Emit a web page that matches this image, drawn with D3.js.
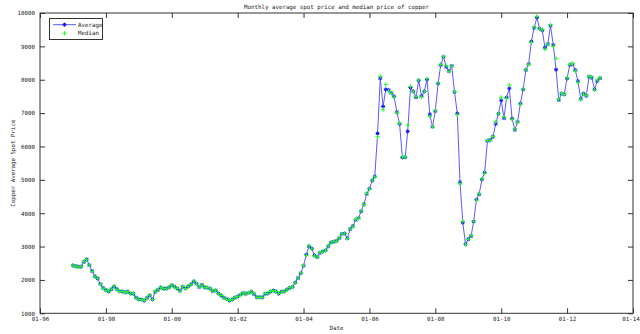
<!DOCTYPE html>
<html>
<head>
<meta charset="utf-8">
<script src="https://cdn.jsdelivr.net/npm/d3@7"></script>
<style>
  html, body { margin: 0; padding: 0; background: #fff; }
  svg { display: block; }
  text { font-family: "DejaVu Sans Mono", "Liberation Mono", monospace; fill: #222; }
</style>
</head>
<body>
<svg id="chart" width="640" height="334"></svg>
<script>
// Monthly copper spot price (USD/t), Jan 1997 – Jan 2013
const startMonth = "1997-01";
const averagePrice = [
  2432, 2413, 2393, 2397, 2537, 2620, 2444, 2266, 2108, 2045, 1878, 1758, // 1997
  1698, 1654, 1720, 1806, 1730, 1666, 1650, 1631, 1647, 1590, 1586, 1468, // 1998
  1421, 1411, 1379, 1459, 1540, 1420, 1644, 1701, 1773, 1741, 1741, 1778, // 1999
  1843, 1797, 1740, 1676, 1794, 1749, 1806, 1867, 1958, 1886, 1786, 1850, // 2000
  1781, 1762, 1736, 1663, 1690, 1598, 1530, 1466, 1431, 1382, 1419, 1465, // 2001
  1501, 1556, 1603, 1587, 1608, 1646, 1577, 1482, 1484, 1479, 1584, 1596, // 2002
  1648, 1683, 1658, 1589, 1647, 1656, 1712, 1759, 1790, 1921, 2056, 2201, // 2003
  2423, 2759, 3009, 2943, 2736, 2684, 2810, 2851, 2889, 3008, 3124, 3143, // 2004
  3170, 3254, 3379, 3394, 3249, 3524, 3614, 3798, 3857, 4059, 4269, 4577, // 2005
  4734, 4982, 5103, 6387, 8046, 7197, 7712, 7695, 7602, 7500, 7029, 6675, // 2006
  5669, 5676, 6452, 7766, 7655, 7476, 7973, 7510, 7650, 8008, 6965, 6587, // 2007
  7061, 7888, 8439, 8685, 8383, 8260, 8414, 7634, 6991, 4926, 3717, 3072, // 2008
  3221, 3315, 3750, 4407, 4569, 5014, 5216, 6165, 6196, 6288, 6676, 6982, // 2009
  7386, 6848, 7463, 7745, 6838, 6499, 6735, 7284, 7709, 8292, 8470, 9147, // 2010
  9556, 9867, 9530, 9483, 8960, 9067, 9619, 9040, 8300, 7394, 7581, 7565, // 2011
  8040, 8441, 8471, 8289, 7956, 7423, 7584, 7516, 8088, 8062, 7711, 7963, // 2012
  8047                                                                    // 2013
];
const medianPrice = [
  2440, 2405, 2390, 2400, 2545, 2610, 2450, 2255, 2100, 2050, 1870, 1750, // 1997
  1690, 1660, 1725, 1815, 1720, 1660, 1655, 1625, 1650, 1585, 1590, 1460, // 1998
  1425, 1405, 1385, 1455, 1545, 1415, 1650, 1705, 1770, 1745, 1735, 1785, // 1999
  1850, 1790, 1745, 1670, 1800, 1745, 1810, 1860, 1965, 1880, 1790, 1845, // 2000
  1775, 1768, 1730, 1660, 1695, 1590, 1535, 1460, 1425, 1385, 1415, 1470, // 2001
  1505, 1550, 1610, 1580, 1612, 1640, 1585, 1475, 1490, 1475, 1590, 1600, // 2002
  1655, 1680, 1650, 1595, 1640, 1660, 1705, 1765, 1795, 1915, 2060, 2210, // 2003
  2430, 2740, 3020, 2930, 2720, 2690, 2820, 2845, 2895, 3015, 3110, 3150, // 2004
  3165, 3260, 3370, 3400, 3240, 3530, 3605, 3810, 3850, 4070, 4260, 4590, // 2005
  4720, 4990, 5090, 6290, 8100, 7100, 7860, 7660, 7590, 7480, 7010, 6700, // 2006
  5690, 5680, 6640, 7800, 7640, 7500, 7990, 7480, 7640, 8030, 6900, 6590, // 2007
  7080, 7900, 8460, 8700, 8420, 8250, 8400, 7650, 6950, 4880, 3760, 3060, // 2008
  3210, 3330, 3760, 4390, 4580, 5030, 5200, 6180, 6180, 6300, 6740, 6990, // 2009
  7470, 6880, 7440, 7840, 6820, 6520, 6720, 7270, 7720, 8300, 8460, 9120, // 2010
  9580, 9900, 9520, 9500, 8910, 9060, 9640, 9000, 8640, 7420, 7590, 7560, // 2011
  8060, 8460, 8490, 8260, 7920, 7410, 7570, 7520, 8100, 8080, 7700, 7990, // 2012
  8060                                                                    // 2013
];
const xTickYears = [1996, 1998, 2000, 2002, 2004, 2006, 2008, 2010, 2012, 2014];
const yTickValues = [1000, 2000, 3000, 4000, 5000, 6000, 7000, 8000, 9000, 10000];
const titleText = "Monthly average spot price and median price of copper";
const xLabel = "Date";
const yLabel = "Copper Average Spot Price";
const seriesNames = ["Average", "Median"];

const svg = d3.select("#chart");
const W = 640, H = 334;
const plot = { left: 40, right: 633, top: 13, bottom: 313.3 };

const [y0, m0] = startMonth.split("-").map(Number);
const months = averagePrice.map((_, i) => new Date(y0, m0 - 1 + i, 1));

const x = d3.scaleTime()
  .domain([new Date(1996, 0, 1), new Date(2014, 0, 1)])
  .range([plot.left, plot.right]);
const y = d3.scaleLinear()
  .domain([1000, 10000])
  .range([plot.bottom, plot.top]);

svg.append("rect").attr("width", W).attr("height", H).attr("fill", "#fff");

const axisColor = "#333";
const fs = 5.8;
const tickLen = 5;

// Bottom axis with inward ticks (mirrored on top)
const xTicks = xTickYears.map(yr => new Date(yr, 0, 1));
const fmt = d3.timeFormat("%m-%y");
const gx = svg.append("g")
  .attr("transform", `translate(0,${plot.bottom})`)
  .call(d3.axisBottom(x).tickValues(xTicks).tickFormat(fmt).tickSizeInner(-tickLen).tickSizeOuter(0).tickPadding(3));
const gxTop = svg.append("g")
  .attr("transform", `translate(0,${plot.top})`)
  .call(d3.axisTop(x).tickValues(xTicks).tickFormat("").tickSizeInner(-tickLen).tickSizeOuter(0));

// Left axis with inward ticks (mirrored on right)
const gy = svg.append("g")
  .attr("transform", `translate(${plot.left},0)`)
  .call(d3.axisLeft(y).tickValues(yTickValues).tickFormat(d3.format("d")).tickSizeInner(-tickLen).tickSizeOuter(0).tickPadding(5));
const gyRight = svg.append("g")
  .attr("transform", `translate(${plot.right},0)`)
  .call(d3.axisRight(y).tickValues(yTickValues).tickFormat("").tickSizeInner(-tickLen).tickSizeOuter(0));

[gx, gxTop, gy, gyRight].forEach(g => {
  g.select(".domain").remove();
  g.selectAll("line").attr("stroke", axisColor).attr("stroke-width", 1);
  g.selectAll("text").attr("font-size", fs).attr("fill", "#222")
    .attr("font-family", "DejaVu Sans Mono, monospace");
});
gx.selectAll("text").attr("dy", "0.35em").attr("y", 5.2);
// keep the last date label inside the page edge
gx.selectAll("text").filter((d, i, n) => i === n.length - 1).attr("dx", -2.5);

// Axes box
svg.append("rect")
  .attr("x", plot.left).attr("y", plot.top)
  .attr("width", plot.right - plot.left).attr("height", plot.bottom - plot.top)
  .attr("fill", "none").attr("stroke", axisColor).attr("stroke-width", 1);

// Titles
svg.append("text").attr("x", (plot.left + plot.right) / 2).attr("y", 8.5)
  .attr("text-anchor", "middle").attr("font-size", fs).text(titleText);
svg.append("text").attr("x", (plot.left + plot.right) / 2).attr("y", 330)
  .attr("text-anchor", "middle").attr("font-size", fs).text(xLabel);
svg.append("text")
  .attr("transform", `translate(15,${(plot.top + plot.bottom) / 2}) rotate(-90)`)
  .attr("text-anchor", "middle").attr("font-size", fs).text(yLabel);

// Marker shapes
const starPath = (r) => {
  const d = r * 0.72;
  return `M${-r},0L${r},0M0,${-r}L0,${r}M${-d},${-d}L${d},${d}M${-d},${d}L${d},${-d}`;
};
const plusPath = (r) => `M${-r},0L${r},0M0,${-r}L0,${r}`;

const blue = "#1010ff";
const lineBlue = "#5a5aff";
const green = "#22ff22";

// Average line
const line = d3.line().x((d, i) => x(months[i])).y(d => y(d));
svg.append("path").datum(averagePrice)
  .attr("d", line).attr("fill", "none")
  .attr("stroke", lineBlue).attr("stroke-width", 1);

// Average markers
svg.append("g").selectAll("path").data(averagePrice).join("path")
  .attr("transform", (d, i) => `translate(${x(months[i])},${y(d)})`)
  .attr("d", starPath(2))
  .attr("stroke", blue).attr("stroke-width", 1).attr("fill", "none");

// Median markers
svg.append("g").selectAll("path").data(medianPrice).join("path")
  .attr("transform", (d, i) => `translate(${x(months[i])},${y(d)})`)
  .attr("d", plusPath(2.2))
  .attr("stroke", green).attr("stroke-width", 1).attr("fill", "none");

// Legend
const lg = svg.append("g");
lg.append("rect").attr("x", 49.5).attr("y", 18.5).attr("width", 53).attr("height", 21)
  .attr("fill", "#fff").attr("stroke", axisColor).attr("stroke-width", 1);
lg.append("line").attr("x1", 53).attr("x2", 76).attr("y1", 24.7).attr("y2", 24.7)
  .attr("stroke", lineBlue).attr("stroke-width", 1);
lg.append("path").attr("transform", "translate(64.5,24.7)").attr("d", starPath(2))
  .attr("stroke", blue).attr("fill", "none");
lg.append("path").attr("transform", "translate(64.5,33.3)").attr("d", plusPath(2.2))
  .attr("stroke", green).attr("fill", "none");
lg.append("text").attr("x", 78).attr("y", 24.7).attr("dy", "0.35em").attr("font-size", fs).text(seriesNames[0]);
lg.append("text").attr("x", 78).attr("y", 33.3).attr("dy", "0.35em").attr("font-size", fs).text(seriesNames[1]);
</script>
</body>
</html>
